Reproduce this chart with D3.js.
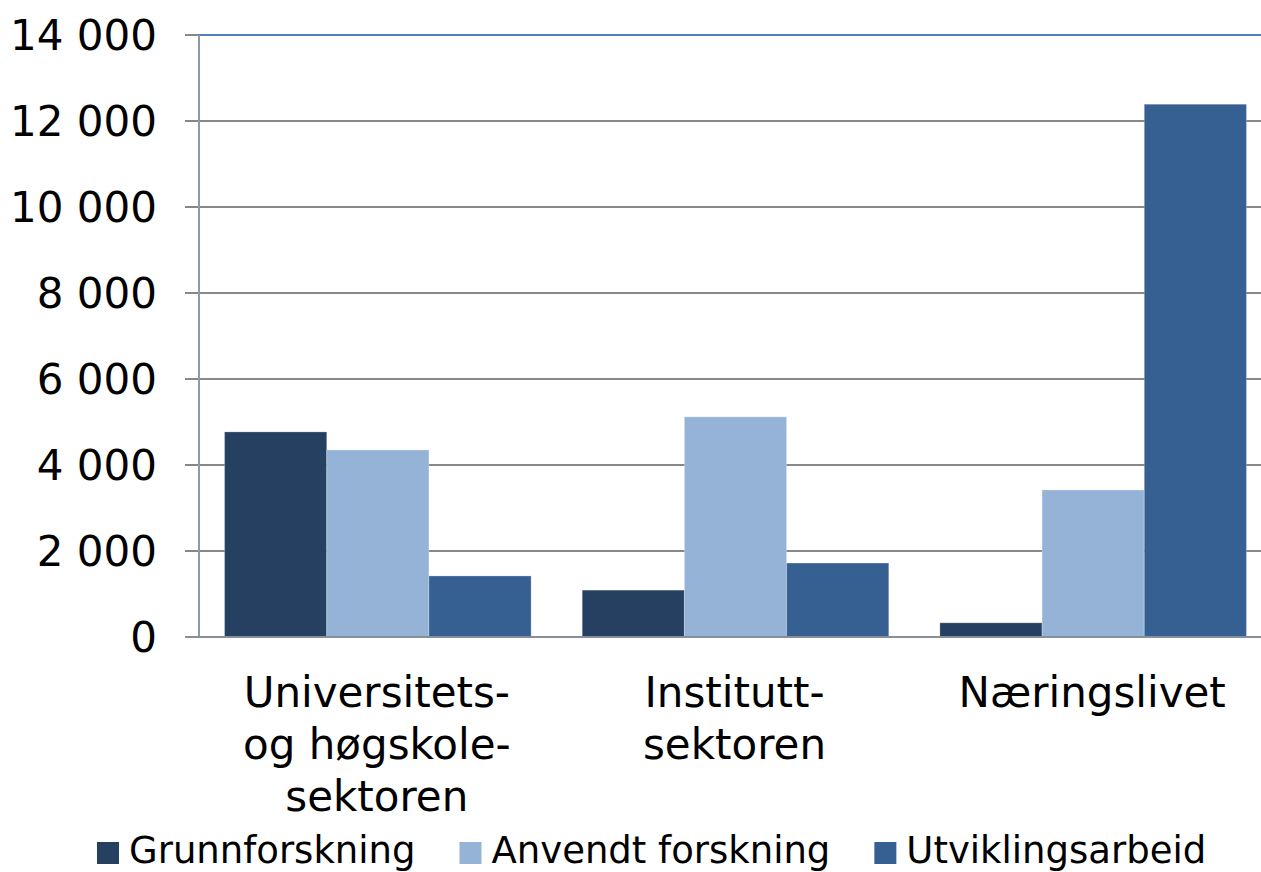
<!DOCTYPE html>
<html>
<head>
<meta charset="utf-8">
<script src="https://cdn.jsdelivr.net/npm/d3@7"></script>
<style>
  body { margin: 0; background: #fff; }
  svg { display: block; font-family: "DejaVu Sans", Verdana, sans-serif; }
</style>
</head>
<body>
<svg id="chart"></svg>
<script>
const width = 1261
const height = 872

// data
const categories = [
    ["Universitets-", "og høgskole-", "sektoren"],
    ["Institutt-", "sektoren"],
    ["Næringslivet"]
]
const series = ["Grunnforskning", "Anvendt forskning", "Utviklingsarbeid"]
const grunnforskning = [4770, 1090, 330]
const anvendt = [4350, 5120, 3420]
const utvikling = [1420, 1720, 12390]
const yTicks = [0, 2000, 4000, 6000, 8000, 10000, 12000, 14000]
const colors = ["#264061", "#95b3d7", "#376092"]

const values = [grunnforskning, anvendt, utvikling]

const svg = d3.select("#chart")
    .attr("width", width)
    .attr("height", height)

const plotLeft = 199
const plotRight = 1272
const plotTop = 35
const plotBottom = 637

let x0 = d3.scaleBand()
    .domain(d3.range(categories.length))
    .range([plotLeft, plotRight])
    .padding(0)

let x1 = d3.scaleBand()
    .domain(d3.range(series.length))
    .range([0, x0.bandwidth()])
    .paddingInner(0)
    .paddingOuter(0.25)

let y = d3.scaleLinear()
    .domain([0, 14000])
    .range([plotBottom, plotTop])

let fmt = v => d3.format(",")(v).replace(/,/g, " ")

// gridlines + tick marks
svg.append("g")
    .selectAll("line")
    .data(yTicks.filter(t => t > 0 && t < 14000))
    .enter()
    .append("line")
    .attr("x1", plotLeft - 14)
    .attr("x2", width)
    .attr("y1", d => y(d))
    .attr("y2", d => y(d))
    .attr("stroke", "#878787")
    .attr("stroke-width", 2)

// top border of plot
svg.append("line")
    .attr("x1", plotLeft - 14).attr("x2", plotLeft)
    .attr("y1", y(14000)).attr("y2", y(14000))
    .attr("stroke", "#878787").attr("stroke-width", 2)
svg.append("line")
    .attr("x1", plotLeft).attr("x2", width)
    .attr("y1", y(14000)).attr("y2", y(14000))
    .attr("stroke", "#4f81bd").attr("stroke-width", 2)

// bars
let groups = svg.append("g")
    .selectAll("g")
    .data(categories)
    .enter()
    .append("g")
    .attr("transform", (d, i) => `translate(${x0(i)},0)`)

groups.selectAll("rect")
    .data((d, i) => values.map((s, j) => ({ s: j, v: s[i] })))
    .enter()
    .append("rect")
    .attr("x", d => x1(d.s))
    .attr("width", x1.bandwidth())
    .attr("y", d => y(d.v))
    .attr("height", d => y(0) - y(d.v))
    .attr("fill", d => colors[d.s])
    .attr("stroke", "#ffffff")
    .attr("stroke-opacity", 0.25)
    .attr("stroke-width", 1)

// axes lines
svg.append("line")
    .attr("x1", plotLeft).attr("x2", plotLeft)
    .attr("y1", plotTop).attr("y2", plotBottom)
    .attr("stroke", "#8a99ae").attr("stroke-width", 2)
svg.append("line")
    .attr("x1", plotLeft - 14).attr("x2", width)
    .attr("y1", plotBottom).attr("y2", plotBottom)
    .attr("stroke", "#878f99").attr("stroke-width", 2)

// y tick labels
svg.append("g")
    .attr("font-size", "42px")
    .attr("fill", "#000")
    .attr("text-anchor", "end")
    .selectAll("text")
    .data(yTicks)
    .enter()
    .append("text")
    .attr("x", 157)
    .attr("y", d => y(d))
    .attr("dy", "0.36em")
    .text(d => fmt(d))

// category labels
let cat = svg.append("g")
    .attr("font-size", "42px")
    .attr("fill", "#000")
    .attr("text-anchor", "middle")
    .selectAll("text")
    .data(categories)
    .enter()
    .append("text")
    .attr("x", (d, i) => x0(i) + x0.bandwidth() / 2 - 1)
    .attr("y", 707)

cat.selectAll("tspan")
    .data(d => d)
    .enter()
    .append("tspan")
    .attr("x", function() { return d3.select(this.parentNode).attr("x") })
    .attr("dy", (d, i) => i == 0 ? 0 : 52)
    .text(d => d)

// legend
let legend = svg.append("g")
    .attr("font-size", "37px")
let lx = 97
series.forEach((s, i) => {
    legend.append("rect")
        .attr("x", lx)
        .attr("y", 842)
        .attr("width", 22)
        .attr("height", 22)
        .attr("fill", colors[i])
    let t = legend.append("text")
        .attr("x", lx + 32)
        .attr("y", 863)
        .text(s)
    lx += 32 + t.node().getComputedTextLength() + 44
})
</script>
</body>
</html>
